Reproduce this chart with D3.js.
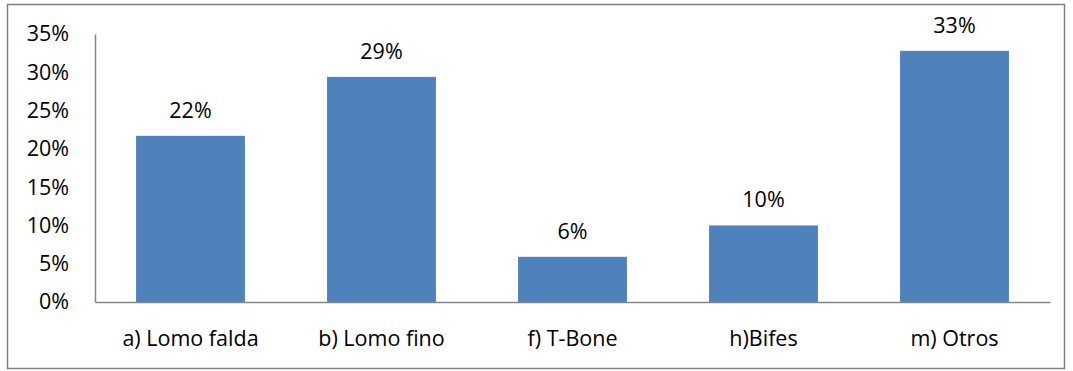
<!DOCTYPE html>
<html>
<head>
<meta charset="utf-8">
<script src="https://cdn.jsdelivr.net/npm/d3@7"></script>
<style>
  body { margin: 0; background: #fff; }
  text { font-family: "Open Sans", Lato, sans-serif; fill: #000; }
</style>
</head>
<body>
<svg id="chart" width="1073" height="371"></svg>
<script>
// data
var categories = ["a) Lomo falda", "b) Lomo fino", "f) T-Bone", "h)Bifes", "m) Otros"];
var values = [0.217, 0.294, 0.059, 0.100, 0.328];
var valueLabels = ["22%", "29%", "6%", "10%", "33%"];
var yTicks = [0, 0.05, 0.10, 0.15, 0.20, 0.25, 0.30, 0.35];

var svg = d3.select("#chart");
var margin = {left: 95, right: 23, top: 34, bottom: 69};
var W = 1073, H = 371;
var fontSize = "21.5px";
var fontFam = "'Open Sans', Lato, sans-serif";

// outer frame
svg.append("rect")
    .attr("x", 7.5).attr("y", 4.5)
    .attr("width", 1057).attr("height", 364)
    .attr("fill", "none")
    .attr("stroke", "#808080")
    .attr("stroke-width", 1.5);

var x = d3.scaleBand()
    .domain(categories)
    .range([margin.left, W - margin.right])
    .paddingInner(0.43)
    .paddingOuter(0.215);

var y = d3.scaleLinear()
    .domain([0, 0.35])
    .range([H - margin.bottom, margin.top]);

var g = svg.append("g");

// bars
g.selectAll(".bar")
    .data(values).enter()
    .append("rect")
    .attr("class", "bar")
    .attr("x", (d, i) => x(categories[i]))
    .attr("y", d => y(d))
    .attr("width", x.bandwidth())
    .attr("height", d => y(0) - y(d))
    .attr("fill", "#4F81BD");

// value labels
g.selectAll(".vlabel")
    .data(values).enter()
    .append("text")
    .attr("class", "vlabel")
    .attr("x", (d, i) => x(categories[i]) + x.bandwidth() / 2)
    .attr("y", d => y(d) - 18)
    .attr("text-anchor", "middle")
    .attr("font-size", fontSize)
    .text((d, i) => valueLabels[i]);

// y axis
var yAxis = d3.axisLeft(y)
    .tickValues(yTicks)
    .tickFormat(d3.format(".0%"))
    .tickSize(0)
    .tickPadding(26);
var ya = svg.append("g")
    .attr("transform", "translate(" + margin.left + ",0)")
    .call(yAxis);
ya.select(".domain").attr("stroke", "#868686").attr("stroke-width", 1.5);
ya.selectAll("text")
    .attr("font-size", fontSize)
    .attr("font-family", fontFam)
    .attr("fill", "#000");

// x axis
var xAxis = d3.axisBottom(x).tickSize(0).tickPadding(29);
var xa = svg.append("g")
    .attr("transform", "translate(0," + (H - margin.bottom) + ")")
    .call(xAxis);
xa.select(".domain").attr("stroke", "#868686").attr("stroke-width", 1.5);
xa.selectAll("text")
    .attr("font-size", fontSize)
    .attr("font-family", fontFam)
    .attr("fill", "#000");
</script>
</body>
</html>
